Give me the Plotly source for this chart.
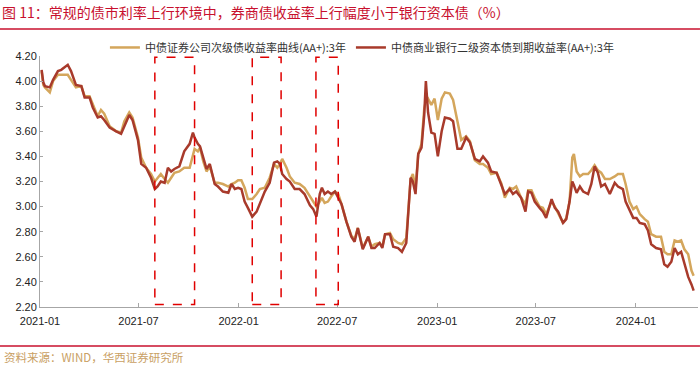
import plotly.graph_objects as go

dates = [
    "2021-01-04","2021-01-07","2021-01-10","2021-01-19","2021-01-25","2021-02-03","2021-02-09","2021-02-21",
    "2021-02-27","2021-03-08","2021-03-18","2021-03-24","2021-04-02","2021-04-08","2021-04-17","2021-04-23",
    "2021-04-29","2021-05-09","2021-05-21","2021-05-30","2021-06-05","2021-06-14","2021-06-20","2021-06-30",
    "2021-07-06","2021-07-15","2021-07-24","2021-07-31","2021-08-05","2021-08-11","2021-08-18","2021-08-24",
    "2021-08-30","2021-09-05","2021-09-14","2021-09-23","2021-10-03","2021-10-09","2021-10-12","2021-10-18",
    "2021-10-22","2021-10-28","2021-11-03","2021-11-09","2021-11-18","2021-11-24","2021-12-03","2021-12-13",
    "2021-12-19","2021-12-25","2021-12-31","2022-01-06","2022-01-12","2022-01-18","2022-01-26","2022-02-03",
    "2022-02-09","2022-02-18","2022-02-27","2022-03-07","2022-03-13","2022-03-18","2022-03-22","2022-03-30",
    "2022-04-05","2022-04-14","2022-04-23","2022-05-02","2022-05-12","2022-05-18","2022-05-24","2022-05-30",
    "2022-06-03","2022-06-08","2022-06-14","2022-06-20","2022-06-27","2022-07-03","2022-07-09","2022-07-18",
    "2022-07-27","2022-08-02","2022-08-08","2022-08-17","2022-08-27","2022-09-02","2022-09-08","2022-09-17",
    "2022-09-22","2022-09-27","2022-10-06","2022-10-12","2022-10-21","2022-10-28","2022-11-05","2022-11-13",
    "2022-11-17","2022-11-22","2022-11-27","2022-12-03","2022-12-08","2022-12-11","2022-12-15","2022-12-21",
    "2022-12-27","2023-01-02","2023-01-09","2023-01-15","2023-01-24","2023-01-30","2023-02-07","2023-02-14",
    "2023-02-23","2023-03-02","2023-03-11","2023-03-20","2023-03-26","2023-04-04","2023-04-10","2023-04-20",
    "2023-04-29","2023-05-05","2023-05-14","2023-05-20","2023-05-26","2023-06-04","2023-06-12","2023-06-17",
    "2023-06-23","2023-06-29","2023-07-08","2023-07-14","2023-07-20","2023-07-30","2023-08-05","2023-08-11",
    "2023-08-20","2023-08-26","2023-09-01","2023-09-06","2023-09-09","2023-09-14","2023-09-20","2023-09-26",
    "2023-10-05","2023-10-11","2023-10-17","2023-10-23","2023-10-29","2023-11-05","2023-11-14","2023-11-23",
    "2023-11-29","2023-12-08","2023-12-13","2023-12-20","2023-12-27","2024-01-02","2024-01-08","2024-01-17",
    "2024-01-23","2024-01-29","2024-02-07","2024-02-16","2024-02-22","2024-02-28","2024-03-06","2024-03-12",
    "2024-03-18","2024-03-24","2024-03-30","2024-04-06","2024-04-12","2024-04-16",
]

bank_yield = [
    4.09,3.99,3.96,3.95,4.01,4.08,4.09,4.13,
    4.08,3.97,3.96,3.87,3.87,3.79,3.71,3.72,
    3.69,3.63,3.60,3.58,3.64,3.73,3.69,3.53,
    3.34,3.31,3.23,3.14,3.16,3.20,3.19,3.31,
    3.28,3.30,3.32,3.44,3.50,3.59,3.55,3.50,
    3.48,3.39,3.30,3.34,3.18,3.16,3.12,3.11,
    3.18,3.14,3.15,3.14,3.04,2.99,2.92,2.96,
    3.03,3.12,3.19,3.35,3.36,3.34,3.26,3.22,
    3.20,3.14,3.14,3.10,3.01,2.98,2.92,3.10,
    3.15,3.10,3.12,3.10,3.12,3.07,3.02,2.88,
    2.76,2.72,2.83,2.66,2.76,2.67,2.67,2.71,
    2.67,2.78,2.78,2.68,2.67,2.64,2.71,3.23,
    3.20,3.10,3.42,3.47,3.73,4.00,3.75,3.59,
    3.58,3.40,3.60,3.71,3.70,3.68,3.46,3.46,
    3.55,3.51,3.38,3.36,3.40,3.35,3.28,3.27,
    3.16,3.10,3.14,3.10,3.12,3.07,2.96,3.12,
    3.11,3.04,2.99,2.96,2.91,3.06,2.99,2.96,
    2.87,2.90,3.04,3.20,3.17,3.11,3.16,3.12,
    3.10,3.18,3.32,3.27,3.16,3.18,3.10,3.19,
    3.16,3.14,3.04,2.98,2.91,2.91,2.87,2.86,
    2.81,2.70,2.67,2.66,2.54,2.52,2.56,2.67,
    2.62,2.64,2.55,2.44,2.38,2.33,
]

broker_yield = [
    4.08,3.97,3.95,3.91,4.00,4.05,4.05,4.05,
    4.01,3.95,3.96,3.88,3.88,3.81,3.72,3.77,
    3.74,3.64,3.60,3.59,3.68,3.75,3.71,3.55,
    3.39,3.31,3.26,3.20,3.23,3.26,3.22,3.19,
    3.23,3.27,3.28,3.31,3.31,3.42,3.46,3.44,
    3.47,3.36,3.28,3.32,3.19,3.19,3.18,3.16,
    3.18,3.19,3.21,3.21,3.15,3.06,3.06,3.10,
    3.14,3.15,3.23,3.34,3.31,3.34,3.38,3.31,
    3.24,3.19,3.18,3.15,3.08,3.04,3.00,3.04,
    3.07,3.03,3.04,3.08,3.12,3.10,3.02,2.88,
    2.77,2.74,2.83,2.67,2.76,2.68,2.70,2.71,
    2.68,2.78,2.79,2.74,2.71,2.70,2.75,3.22,
    3.26,3.15,3.42,3.50,3.78,3.84,3.86,3.81,
    3.86,3.69,3.86,3.91,3.90,3.85,3.68,3.53,
    3.56,3.52,3.37,3.34,3.34,3.31,3.26,3.27,
    3.18,3.07,3.15,3.14,3.16,3.07,3.02,3.13,
    3.13,3.07,3.00,2.99,2.94,3.04,3.00,2.95,
    2.87,2.91,3.04,3.39,3.42,3.28,3.24,3.26,
    3.26,3.29,3.33,3.29,3.27,3.22,3.22,3.24,
    3.26,3.26,3.18,3.04,2.98,3.00,2.94,2.90,
    2.88,2.78,2.76,2.76,2.64,2.62,2.62,2.73,
    2.72,2.73,2.66,2.62,2.49,2.45,
]

series_names = ["中债证券公司次级债收益率曲线(AA+):3年", "中债商业银行二级资本债到期收益率(AA+):3年"]
highlight_periods = [("2021-07-31", "2021-10-12"), ("2022-01-26", "2022-03-20"), ("2022-05-23", "2022-07-03")]
tick_dates = ["2021-01-01", "2021-07-01", "2022-01-01", "2022-07-01", "2023-01-01", "2023-07-01", "2024-01-01"]
tick_text = ["2021-01", "2021-07", "2022-01", "2022-07", "2023-01", "2023-07", "2024-01"]
title_text = "图 11：常规的债市利率上行环境中，券商债收益率上行幅度小于银行资本债（%）"
source_text = "资料来源：WIND，华西证券研究所"

GOLD = "#d4a65c"
RED = "#a83a2b"
CJK = "Noto Sans CJK SC"

fig = go.Figure()
fig.add_trace(go.Scatter(x=dates, y=broker_yield, mode="lines", name=series_names[0],
                         line=dict(color=GOLD, width=2.5)))
fig.add_trace(go.Scatter(x=dates, y=bank_yield, mode="lines", name=series_names[1],
                         line=dict(color=RED, width=2.5)))

for x0, x1 in highlight_periods:
    fig.add_shape(type="rect", xref="x", yref="y", x0=x0, x1=x1, y0=2.22, y1=4.19,
                  line=dict(color="#e00000", width=1.5, dash="dash"), fillcolor="rgba(0,0,0,0)")

# header and footer rules
fig.add_shape(type="line", xref="paper", yref="paper", x0=-0.0608, x1=1.003, y0=1.108, y1=1.108,
              line=dict(color="#c8102e", width=1.5))
fig.add_shape(type="line", xref="paper", yref="paper", x0=-0.0608, x1=1.003, y0=-0.155, y1=-0.155,
              line=dict(color="#c8102e", width=1.5))

fig.add_annotation(text=source_text, xref="paper", yref="paper", x=-0.058, y=-0.2,
                   xanchor="left", yanchor="middle", showarrow=False,
                   font=dict(family=CJK, size=11.5, color="#c9a063"))

fig.update_layout(
    width=700, height=375,
    margin=dict(l=40, r=2, t=56, b=68),
    paper_bgcolor="white", plot_bgcolor="white",
    title=dict(text=title_text, xref="container", yref="container", x=0.003, y=0.966,
               xanchor="left", yanchor="middle",
               font=dict(family=CJK, size=14, color="#c8102e")),
    legend=dict(orientation="h", x=0.49, xanchor="center", y=1.034, yanchor="middle",
                font=dict(family=CJK, size=11, color="#333333"), bgcolor="rgba(0,0,0,0)"),
    showlegend=True,
)
fig.update_xaxes(range=["2021-01-01", "2024-04-24"], tickvals=tick_dates, ticktext=tick_text,
                 showgrid=False, showline=True, linecolor="#a6a6a6", linewidth=1,
                 ticks="inside", ticklen=4, tickcolor="#a6a6a6", ticklabelstandoff=4,
                 tickfont=dict(family="Liberation Sans", size=11, color="#222222"))
fig.update_yaxes(range=[2.2, 4.2], dtick=0.2, tickformat=".2f",
                 showgrid=False, showline=True, linecolor="#a6a6a6", linewidth=1,
                 ticks="inside", ticklen=3, tickcolor="#a6a6a6", zeroline=False,
                 tickfont=dict(family="Liberation Sans", size=11, color="#222222"))

fig.write_html("out.html", config={"displayModeBar": False},
               post_script="document.body.style.margin='0px';document.body.style.padding='0px';")
